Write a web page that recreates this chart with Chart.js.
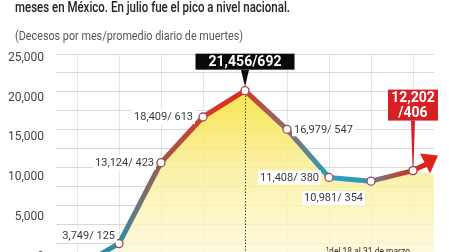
<!DOCTYPE html>
<html><head><meta charset="utf-8">
<script src="https://cdn.jsdelivr.net/npm/chart.js@4"></script>
<style>
html,body{margin:0;padding:0;background:#fff;overflow:hidden;width:449px;height:252px;}
#wrap{position:absolute;left:0;top:0;width:449px;height:276px;}
.t{position:absolute;white-space:nowrap;transform-origin:0 0;font-family:Roboto,'Liberation Sans',sans-serif;}
#title{left:15px;top:-2px;font-size:15px;font-weight:500;color:#222;}
#sub{left:15px;top:29px;font-size:12px;color:#555;}
#note{left:326px;top:245px;font-size:11px;color:#333;}
</style></head><body>
<div id="wrap"><canvas id="c" width="449" height="276"></canvas></div>
<div class="t" id="title" data-w="275">meses en México. En julio fue el pico a nivel nacional.</div>
<div class="t" id="sub" data-w="228">(Decesos por mes/promedio diario de muertes)</div>
<div class="t" id="note" data-w="84">¹del 18 al 31 de marzo</div>
<script>
// ---- data ----
const months = ['Mar','Abr','May','Jun','Jul','Ago','Sep','Oct','Nov'];
const deaths = [1000, 3749, 13124, 18409, 21456, 16979, 11408, 10981, 12202];
const dailyAvg = [null, 125, 423, 613, 692, 547, 380, 354, 406];
const yTicks = [0, 5000, 10000, 15000, 20000, 25000];

// ---- styles ----
const segColors = [
  ['#2a8ea6','#2a8ea6'],
  ['#2c8fa6','#6f7479','#9a5a4c'],
  ['#a0584a','#cf3b2f'],
  ['#d43a2e','#dc2a22'],
  ['#d8352a','#a85a4e','#8d6e6a'],
  ['#8d6e6a','#5d8595','#1fa3c9'],
  ['#1fa5cc','#3d93ad'],
  ['#5b8796','#a3584c','#da2a26']
];
// label placement: [mode, dx, dy]  mode: 'L' right-aligned left of point, 'R' left-aligned right of point
const labelPlace = [null, ['L',-4,-8], ['L',-7,0], ['L',-10,0], 'BLACK', ['R',7,0], ['L',-10,0], ['L',-8,17], 'RED'];

const fmt = v => v.toLocaleString('en-US');

document.querySelectorAll('.t[data-w]').forEach(el=>{
  const w = el.getBoundingClientRect().width;
  el.style.transform = 'scaleX(' + (parseFloat(el.dataset.w)/w) + ')';
});

const cv = document.getElementById('c');
const g2 = cv.getContext('2d');

function fillGrad(ca){
  const g = g2.createLinearGradient(0, ca.top + 34, 0, 252);
  g.addColorStop(0, 'rgba(245,225,50,0.88)');
  g.addColorStop(0.5, 'rgba(250,238,150,0.82)');
  g.addColorStop(1, 'rgba(253,249,212,0.8)');
  return g;
}

const annot = {
  id: 'annot',
  beforeDatasetsDraw(chart){
    const ctx = chart.ctx, ca = chart.chartArea;
    const pts = chart.getDatasetMeta(0).data;
    const L = pts[pts.length-1];
    ctx.save();
    ctx.fillStyle = fillGrad(ca);
    ctx.beginPath();
    ctx.moveTo(L.x, L.y); ctx.lineTo(ca.right, L.y+4); ctx.lineTo(ca.right, ca.bottom); ctx.lineTo(L.x, ca.bottom);
    ctx.closePath(); ctx.fill();
    ctx.restore();
  },
  afterDatasetsDraw(chart){
    const ctx = chart.ctx, ca = chart.chartArea;
    const pts = chart.getDatasetMeta(0).data;
    const pk = deaths.indexOf(Math.max(...deaths));
    const P = pts[pk];
    ctx.save();
    // dotted peak line
    ctx.strokeStyle = '#222'; ctx.lineWidth = 1; ctx.setLineDash([1.2,2]);
    ctx.beginPath(); ctx.moveTo(P.x+0.5, P.y+5); ctx.lineTo(P.x+0.5, ca.bottom); ctx.stroke();
    ctx.setLineDash([]);
    // arrow from last point
    const L = pts[pts.length-1];
    ctx.strokeStyle = '#e0221c'; ctx.fillStyle = '#e0221c'; ctx.lineWidth = 5; ctx.lineCap='round';
    ctx.beginPath(); ctx.moveTo(L.x+3, L.y-1.5); ctx.lineTo(L.x+15, L.y-7); ctx.stroke();
    ctx.beginPath();
    ctx.moveTo(L.x+25, L.y-15); ctx.lineTo(L.x+7, L.y-17); ctx.lineTo(L.x+17, L.y+3); ctx.closePath(); ctx.fill();
    // redraw last point marker over arrow
    ctx.fillStyle='#fff'; ctx.strokeStyle='#9a4a5a'; ctx.lineWidth=1.3;
    ctx.beginPath(); ctx.arc(L.x, L.y, 4, 0, Math.PI*2); ctx.fill(); ctx.stroke();

    // labels
    ctx.font = '11px Roboto, sans-serif';
    ctx.textBaseline = 'middle';
    pts.forEach((p, i) => {
      const pl = labelPlace[i];
      if (!pl || dailyAvg[i] == null) return;
      if (pl === 'BLACK') {
        const txt = fmt(deaths[i]) + '/' + dailyAvg[i];
        const bw = 99, bh = 16, bx = p.x - bw/2, by = p.y - 21 - bh;
        ctx.fillStyle = '#0a0a0a';
        ctx.fillRect(bx, by, bw, bh);
        ctx.beginPath(); ctx.moveTo(p.x-4, by+bh); ctx.lineTo(p.x+4, by+bh); ctx.lineTo(p.x, p.y-4); ctx.closePath(); ctx.fill();
        ctx.fillStyle = '#fff'; ctx.font = 'bold 14px Roboto, sans-serif'; ctx.textAlign = 'center';
        ctx.fillText(txt, p.x, by + bh/2 + 1);
        ctx.font = '11px Roboto, sans-serif';
        return;
      }
      if (pl === 'RED') {
        const bw = 50, bh = 31, bx = p.x - bw/2, by = p.y - 50 - bh;
        ctx.fillStyle = '#d71f26';
        ctx.fillRect(bx, by, bw, bh);
        ctx.beginPath(); ctx.moveTo(p.x-2, by+bh); ctx.lineTo(p.x+2, by+bh); ctx.lineTo(p.x+0.5, p.y-4); ctx.lineTo(p.x-0.5, p.y-4); ctx.closePath(); ctx.fill();
        ctx.fillStyle = '#fff'; ctx.font = 'bold 14px Roboto, sans-serif'; ctx.textAlign = 'center';
        ctx.fillText(fmt(deaths[i]), p.x, by + 9);
        ctx.fillText('/' + dailyAvg[i], p.x, by + 24);
        ctx.font = '11px Roboto, sans-serif';
        return;
      }
      const txt = fmt(deaths[i]) + '/ ' + dailyAvg[i];
      const w = ctx.measureText(txt).width;
      const [mode, dx, dy] = pl;
      const x0 = mode === 'L' ? p.x + dx - w : p.x + dx;
      const y = p.y + dy;
      ctx.fillStyle = '#fff';
      ctx.fillRect(x0 - 2, y - 7, w + 4, 14);
      ctx.fillStyle = '#3a3a3a'; ctx.textAlign = 'left';
      ctx.fillText(txt, x0, y + 0.5);
    });
    ctx.restore();
  }
};

new Chart(cv, {
  type: 'line',
  data: {
    labels: months,
    datasets: [{
      data: deaths,
      yAxisID: 'y',
      borderWidth: 5,
      borderCapStyle: 'round',
      borderJoinStyle: 'round',
      tension: 0,
      fill: 'origin',
      backgroundColor: (c) => { const ca = c.chart.chartArea; return ca ? fillGrad(ca) : 'rgba(250,240,150,0.8)'; },
      segment: {
        borderColor: (s) => {
          const cols = segColors[s.p0DataIndex] || ['#888','#888'];
          const g = g2.createLinearGradient(s.p0.x, s.p0.y, s.p1.x, s.p1.y);
          cols.forEach((c, k) => g.addColorStop(k/(cols.length-1), c));
          return g;
        }
      },
      pointRadius: 4,
      pointBackgroundColor: '#fff',
      pointBorderColor: '#9a4a5a',
      pointBorderWidth: 1.3
    }]
  },
  options: {
    responsive: false,
    animation: false,
    layout: { autoPadding: false, padding: { top: 54, right: 15, left: 0, bottom: 0 } },
    plugins: { legend: { display: false }, tooltip: { enabled: false } },
    scales: {
      x: {
        type: 'category', offset: true,
        grid: { offset: false, color: '#e6e6e6', drawTicks: false },
        border: { display: false },
        ticks: { display: false },
        afterFit: s => { s.height = 0; s.paddingLeft = 0; s.paddingRight = 0; }
      },
      y: { display: false, min: 0, max: 25700 },
      yg: {
        position: 'left', reverse: true, min: 0, max: 222/18.9,
        ticks: { display: false, stepSize: 1 },
        grid: { color: '#d9d9d9', drawTicks: false },
        border: { display: false },
        afterFit: s => { s.width = 0; s.paddingTop = 0; s.paddingBottom = 0; }
      },
      yl: {
        position: 'left', min: -2422, max: 25503,
        afterBuildTicks: s => { s.ticks = yTicks.map(v => ({ value: v })); },
        ticks: { callback: v => fmt(v), color: '#444', font: { family: 'Roboto', size: 12 }, padding: 4 },
        grid: { display: false },
        border: { display: false },
        afterFit: s => { s.width = 56; s.paddingTop = 0; s.paddingBottom = 0; }
      }
    }
  },
  plugins: [annot]
});
</script>
</body></html>
